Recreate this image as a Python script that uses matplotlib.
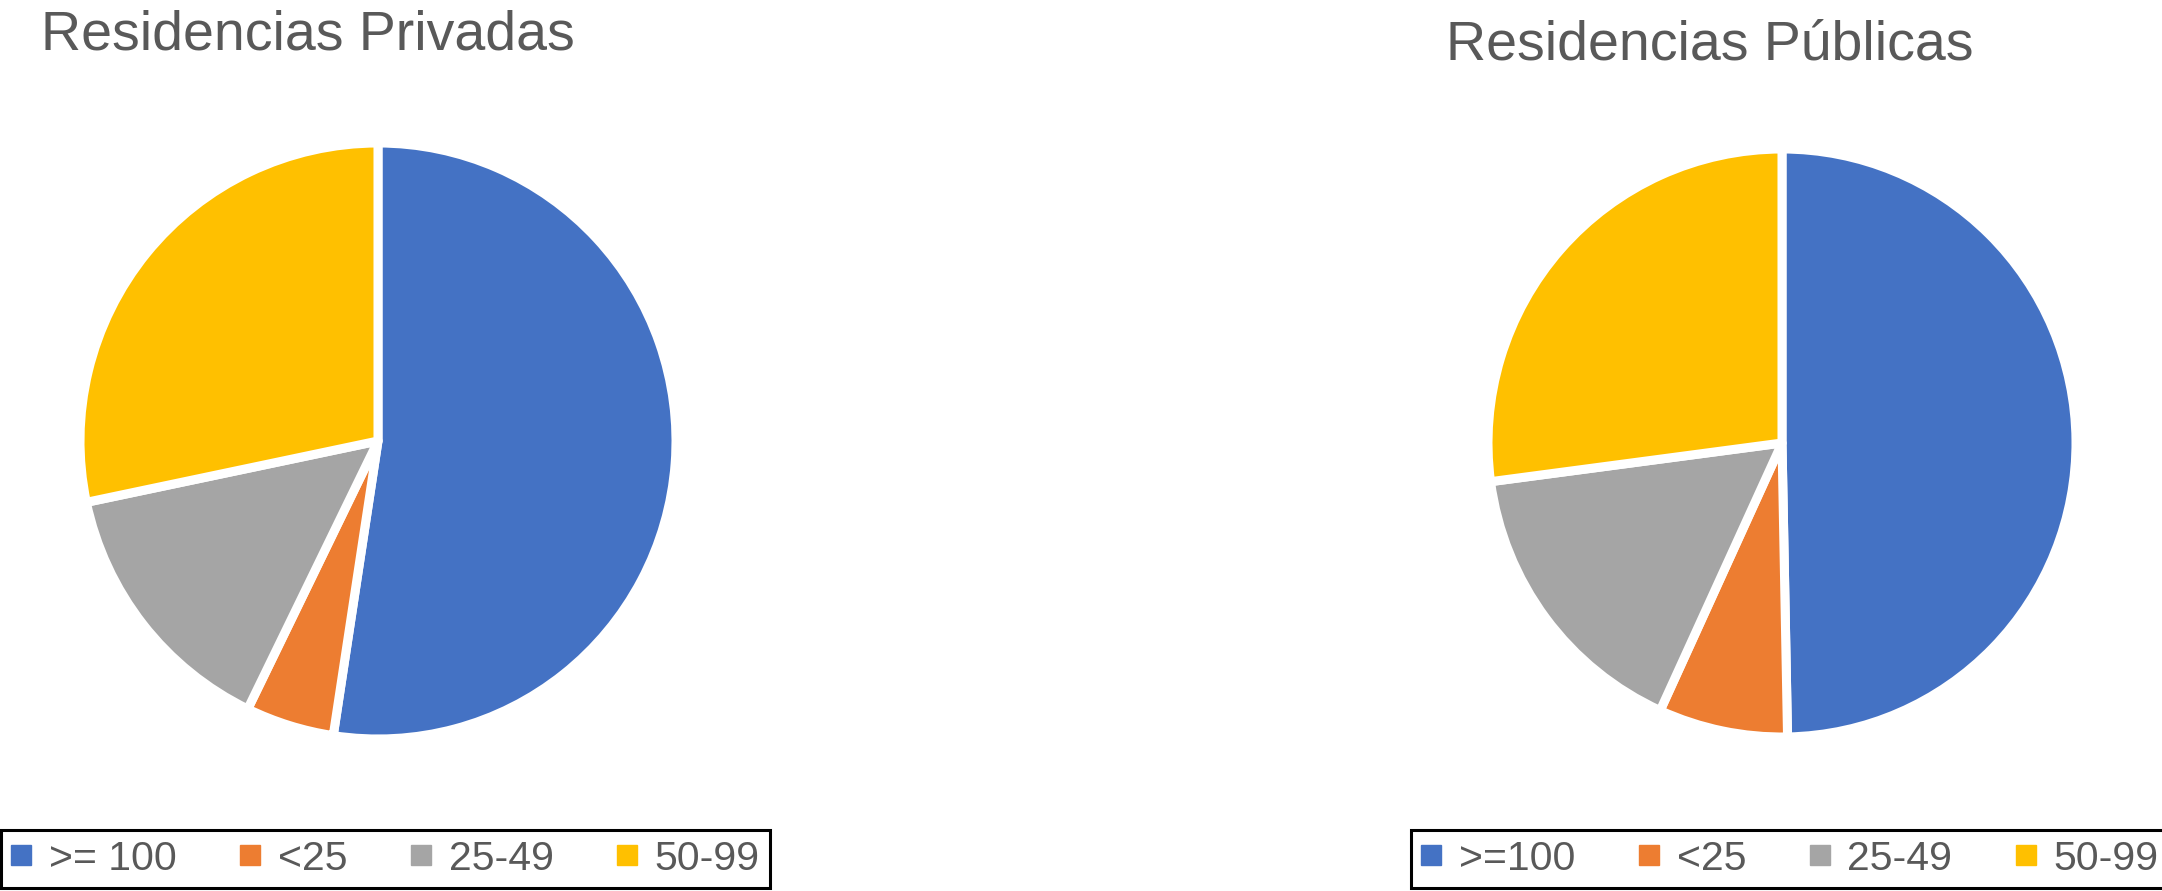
#!/usr/bin/env python3

import matplotlib.pyplot as plt
from matplotlib.lines import Line2D

categories = [">= 100", "<25", "25-49", "50-99"]
categories_pub = [">=100", "<25", "25-49", "50-99"]
privadas = [52.4, 4.8, 14.5, 28.3]
publicas = [49.7, 7.1, 16.1, 27.1]
colors = ["#4472C4", "#ED7D31", "#A5A5A5", "#FFC000"]

TXT = "#595959"
W, H = 2162, 891


def draw_pie(fig, rect, values, title, tx, ty):
    ax = fig.add_axes(rect)
    ax.pie(values, colors=colors, startangle=90, counterclock=False,
           radius=1.0, wedgeprops=dict(edgecolor="white", linewidth=6.5,
                                       joinstyle="round"))
    ax.set_xlim(-1.0, 1.0)
    ax.set_ylim(-1.0, 1.0)
    ax.set_aspect("equal")
    ax.axis("off")
    fig.text(tx / W, 1 - ty / H, title, fontsize=40, color=TXT,
             family="Liberation Sans", ha="left", va="baseline")


def draw_legend(fig, labels, x0, y0):
    handles = [Line2D([], [], marker="s", linestyle="none", markersize=14,
                      markerfacecolor=c, markeredgecolor=c) for c in colors]
    leg = fig.legend(handles, labels, loc="lower left",
                     bbox_to_anchor=(x0 / W, 1 - y0 / H), ncol=4,
                     prop={"family": "Liberation Sans", "size": 29.5},
                     handlelength=0.5, handletextpad=0.42, columnspacing=1.55,
                     borderpad=0.25, borderaxespad=0, fancybox=False,
                     framealpha=1, edgecolor="black", frameon=True)
    leg.get_frame().set_linewidth(2.2)
    for t in leg.get_texts():
        t.set_color(TXT)


def main():
    fig = plt.figure(figsize=(W / 100, H / 100), dpi=100)
    fig.patch.set_facecolor("white")

    draw_pie(fig, [80 / W, 1 - 739 / H, 596 / W, 596 / H], privadas,
             "Residencias Privadas", 41, 50)
    draw_pie(fig, [1488 / W, 1 - 737 / H, 588 / W, 588 / H], publicas,
             "Residencias Públicas", 1446, 59)

    draw_legend(fig, categories, 1, 888)
    draw_legend(fig, categories_pub, 1411, 888)

    fig.savefig("out.png", dpi=100, facecolor="white")


if __name__ == "__main__":
    main()
